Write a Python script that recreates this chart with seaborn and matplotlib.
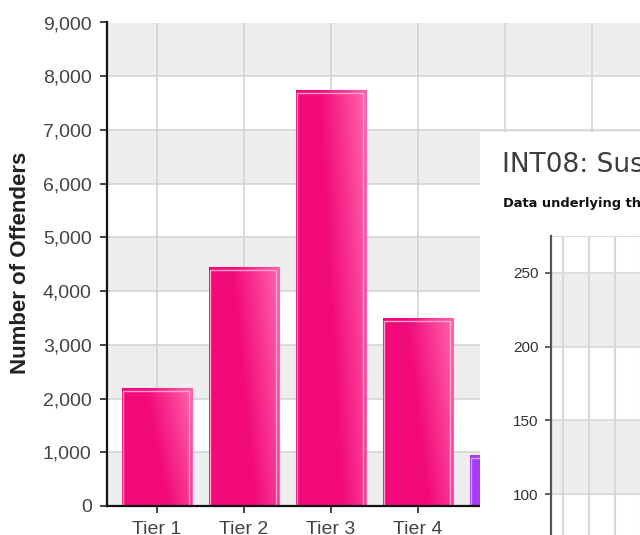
import numpy as np
import pandas as pd
import matplotlib
matplotlib.use("Agg")
import matplotlib.pyplot as plt
from matplotlib.colors import LinearSegmentedColormap
from matplotlib.patches import Rectangle
import seaborn as sns

# ---- data ----
categories = ["Tier 1", "Tier 2", "Tier 3", "Tier 4", "Tier 5"]
offenders = [2200, 4450, 7750, 3500, 950]
bar_colors = ["#f20a7a", "#f20a7a", "#f20a7a", "#f20a7a", "#a43cf2"]
light_colors = ["#ff62ac", "#ff62ac", "#ff62ac", "#ff62ac", "#c57cff"]
main_yticks = list(range(0, 9001, 1000))

inset_title = "INT08: Suspected offenders"
inset_subtitle = "Data underlying this chart"
inset_yticks = [0, 50, 100, 150, 200, 250]

sns.set_theme(style="white")
plt.rcParams["font.family"] = ["Liberation Sans", "DejaVu Sans"]

W, H = 640, 535
fig = plt.figure(figsize=(6.4, 5.35), dpi=100)
fig.patch.set_facecolor("white")

# ---- main chart ----
ax_left, ax_bottom, ax_top = 107, 506, 22.5
ax_w = 533
ax = fig.add_axes([ax_left / W, (H - ax_bottom) / H, ax_w / W, (ax_bottom - ax_top) / H])
ax.set_facecolor("white")

df = pd.DataFrame({"tier": categories, "n": offenders})
sns.barplot(data=df, x="tier", y="n", hue="tier", palette=bar_colors,
            legend=False, ax=ax, width=0.8, saturation=1, zorder=3)

# alternating bands
for lo in range(0, 9000, 2000):
    ax.axhspan(lo, lo + 1000, color="#eeeeee", zorder=0, lw=0)

# gradient fill on bars
gx = np.linspace(0, 1, 64)
gy = np.linspace(0, 1, 64)
GX, GY = np.meshgrid(gx, gy)
for p, c0, c1 in zip(ax.patches, bar_colors, light_colors):
    x0, y0 = p.get_x(), p.get_y()
    w, h = p.get_width(), p.get_height()
    cmap = LinearSegmentedColormap.from_list("g", [c0, c0, c1])
    t = np.clip(0.75 * GX + 0.25 * GY, 0, 1)
    im = ax.imshow(t, extent=[x0, x0 + w, y0, y0 + h], origin="lower",
                   aspect="auto", cmap=cmap, vmin=0, vmax=1, zorder=3.5)
    im.set_clip_path(p)
    p.set_edgecolor(c1)
    p.set_linewidth(0.8)
    dx = 3.0 / 87.0
    dy = 3.0 / 0.05372
    ax.add_patch(Rectangle((x0 + 0.004, y0), w - dx, h - dy, fill=False,
                           edgecolor="#ffb0d4" if c0 == "#f20a7a" else "#d9a6ff",
                           lw=1.0, zorder=4, alpha=0.9))

xmin = -50 / 87
ax.set_xlim(xmin, xmin + ax_w / 87)
ax.set_ylim(0, 9000)
ax.set_xticks(range(len(categories)))
ax.set_xticklabels(categories)
ax.set_yticks(main_yticks)
ax.set_yticklabels([f"{v:,}" for v in main_yticks])

for x in range(0, 7):
    ax.axvline(x, color="#d4d4d4", lw=1.2, zorder=1)
for y in main_yticks:
    ax.axhline(y, color="#d4d4d4", lw=1.2, zorder=1)

ax.tick_params(axis="both", which="major", labelsize=14, labelcolor="#444444",
               color="#222222", length=5, width=1.2, pad=6,
               left=True, bottom=True)
ax.set_xlabel("")
ax.set_ylabel("Number of Offenders", fontsize=16, fontweight="bold", color="#222222")
ax.yaxis.set_label_coords((31 - ax_left) / ax_w, 0.503)
for s in ["top", "right"]:
    ax.spines[s].set_visible(False)
for s in ["left", "bottom"]:
    ax.spines[s].set_color("#111111")
    ax.spines[s].set_linewidth(1.6)
    ax.spines[s].set_zorder(6)

# ---- inset screenshot panel ----
px0, py_top = 479.5, 132
panel = fig.add_axes([px0 / W, 0, (W - px0) / W, (H - py_top) / H], zorder=5)
panel.set_facecolor("white")
panel.set_xticks([])
panel.set_yticks([])
for s in panel.spines.values():
    s.set_visible(False)
ph = H - py_top
pw = W - px0
panel.text((502 - px0) / pw, (H - 172) / ph, inset_title, transform=panel.transAxes,
           fontsize=19, color="#3d3d3d", family=["DejaVu Sans"], va="baseline",
           ha="left", clip_on=True)
panel.text((503 - px0) / pw, (H - 207) / ph, inset_subtitle, transform=panel.transAxes,
           fontsize=9.4, fontweight="bold", color="#111111", family=["DejaVu Sans"],
           va="baseline", ha="left", clip_on=True)

# inner chart axes
scale = 221 / 150.0
y0_px = 494 + 100 * scale
top_val = 275
top_px = 273 - (top_val - 250) * scale
in_left = 551
in_w = 100
inner = fig.add_axes([in_left / W, (H - y0_px) / H, in_w / W, (y0_px - top_px) / H], zorder=6)
inner.set_facecolor("white")
for lo in (0, 100, 200):
    inner.axhspan(lo, lo + 50, color="#eeeeee", zorder=0, lw=0)
inner.set_ylim(0, top_val)
ixmin = -12 / 26
inner.set_xlim(ixmin, ixmin + in_w / 26)
for x in range(0, 5):
    inner.axvline(x, color="#d8d8d8", lw=1.5, zorder=1)
for y in inset_yticks + [top_val]:
    inner.axhline(y, color="#d8d8d8", lw=1.2, zorder=1)
inner.set_xticks([])
inner.set_yticks(inset_yticks)
inner.set_yticklabels([str(v) for v in inset_yticks])
inner.tick_params(axis="y", labelsize=11, labelcolor="#333333", color="#444444",
                  length=4, width=1.2, pad=5, left=True)
for s in ["top", "right", "bottom"]:
    inner.spines[s].set_visible(False)
inner.spines["left"].set_color("#555555")
inner.spines["left"].set_linewidth(1.6)

fig.savefig("out.png", dpi=100)
